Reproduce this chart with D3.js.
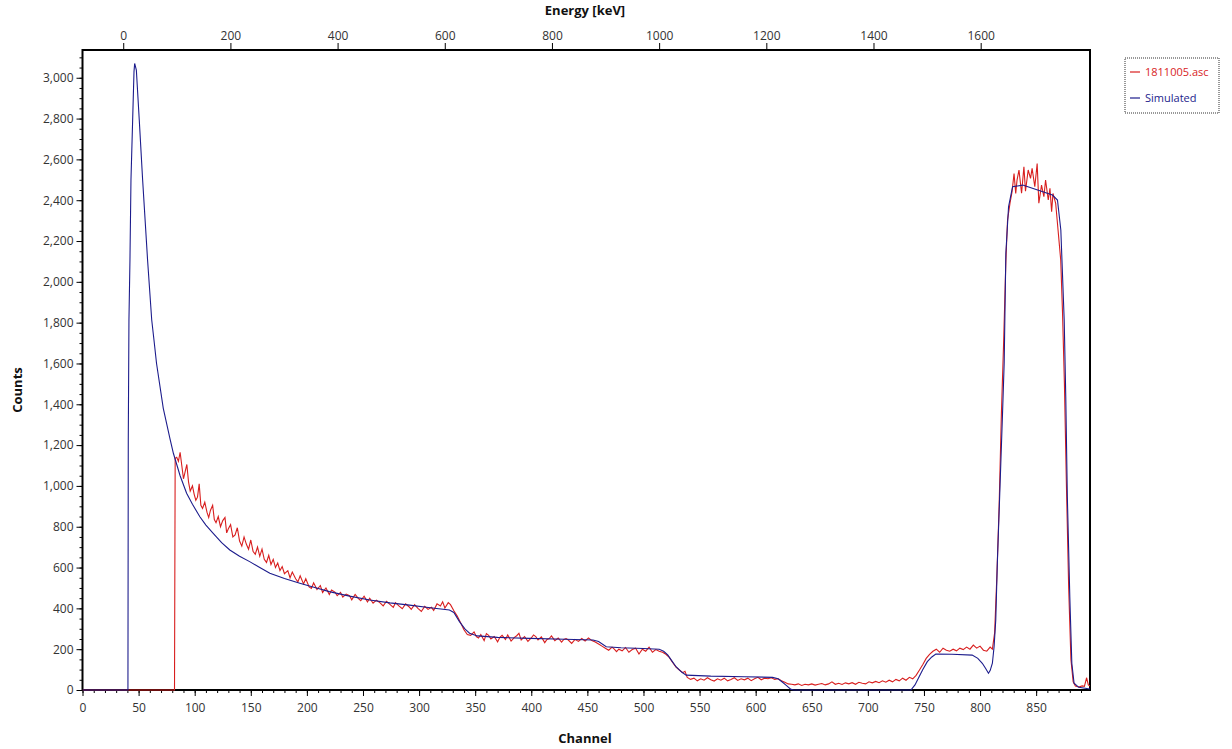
<!DOCTYPE html>
<html>
<head>
<meta charset="utf-8">
<script src="https://cdn.jsdelivr.net/npm/d3@7"></script>
<style>
    body { margin: 0; background: #fff; }
    text { font-family: "Open Sans", "Noto Sans", sans-serif; }
</style>
</head>
<body>
<div id="chart"></div>
<script>
// tick values
const channelTicks = [0, 50, 100, 150, 200, 250, 300, 350, 400, 450, 500, 550, 600, 650, 700, 750, 800, 850];
const energyTicks = [0, 200, 400, 600, 800, 1000, 1200, 1400, 1600];
const countTicks = [0, 200, 400, 600, 800, 1000, 1200, 1400, 1600, 1800, 2000, 2200, 2400, 2600, 2800, 3000];

// axis ranges
const channelDomain = [0, 898];
const energyDomain = [-76, 1804];
const countDomain = [0, 3136];

// series names
const seriesNames = ["1811005.asc", "Simulated"];

// simulated spectrum [channel, counts]
const simulated = [
    [0, 0], [40.5, 0], [40.8, 1225], [41.4, 1813], [42.3, 2107], [43.2, 2499], [44.7, 2793],
    [45.9, 3030], [46.5, 3070], [48, 3038], [50.6, 2793], [53.6, 2499], [58, 2107], [61.7, 1813],
    [64, 1700], [66, 1600], [72, 1380], [78, 1230], [81, 1160], [87, 1050], [92.8, 964],
    [98, 910], [104.6, 849], [110, 808], [116.5, 768], [124, 722], [131.3, 686], [140, 655],
    [149, 629], [158, 600], [167, 572], [180, 546], [193.7, 523], [207, 502], [220, 482],
    [238, 460], [256, 441], [274, 427], [291.5, 416], [310, 403], [327, 392], [331, 380],
    [336, 335], [341, 298], [345, 278], [352, 265], [370, 258], [398.5, 253], [430, 249],
    [455, 245], [460, 238], [466.8, 212], [480, 207], [500, 203], [514, 200], [518, 190],
    [521.6, 172], [525, 145], [529, 114], [534, 88], [538, 73], [560, 68], [590, 65],
    [615, 62], [620, 55], [624, 38], [627, 24], [631.5, 3], [634, 0], [738.4, 0],
    [742, 25], [745.7, 65], [749, 100], [753, 139], [757, 162], [760.6, 176], [775, 175],
    [793, 171], [798, 155], [802, 131], [805, 105], [807.5, 82], [809, 95], [811, 131],
    [812.5, 212], [814, 343], [815.4, 621], [818.5, 1111], [820, 1350], [821.5, 1601],
    [823, 2140], [825.4, 2368], [829, 2466], [838, 2474], [850, 2452], [864.5, 2425],
    [869, 2401], [872, 2254], [875, 1813], [876.4, 1437], [877.8, 947], [880, 457],
    [881.8, 131], [883.8, 33], [888, 13], [898, 5]
];

// measured spectrum [channel, counts]
const measuredLow = [
    [0, 0], [82, 0], [82.6, 1135], [84, 1140], [85.5, 1120], [87, 1165], [88.5, 1100],
    [90, 1035], [91.5, 1070], [93, 1105], [94.5, 1020], [96, 975], [98, 1000], [99.5, 960],
    [101, 930], [102.5, 945], [104, 1010], [105.5, 905], [107, 890], [109, 920], [111, 870],
    [112.5, 845], [114, 880], [116, 905], [117.5, 835], [119, 820], [121, 850], [123, 800],
    [125, 830], [127, 845], [128.5, 770], [130, 790], [132, 810], [134, 750], [136, 760],
    [138, 795], [140, 730], [142, 705], [144, 750], [146, 715], [148, 690], [150, 735],
    [152, 680], [154, 665], [156, 700], [158, 655], [160, 690], [162, 640], [164, 625],
    [166, 660], [168, 615], [170, 640], [172, 600], [174, 622], [176, 585], [178, 605],
    [180, 570], [183, 585], [185, 550], [187, 578], [190, 545], [192, 530], [194, 560],
    [197, 520], [199, 545], [202, 505], [204, 498], [206, 525], [209, 492], [212, 512],
    [214, 478], [217, 500], [220, 468], [222, 490], [225, 480], [227, 462], [230, 478],
    [232, 455], [235, 470], [238, 462], [240, 442], [243, 468], [246, 448], [248, 438],
    [251, 460], [254, 432], [256, 450], [259, 425], [262, 440], [265, 428], [268, 412],
    [271, 435], [274, 420], [277, 405], [279, 428], [282, 412], [285, 398], [288, 422],
    [291, 408], [293, 395], [296, 418], [299, 400], [302, 385], [305, 410], [308, 395],
    [311, 405], [313, 390], [316, 422], [319, 412], [321, 432], [323, 402], [326, 428],
    [328, 418], [331, 388], [334, 362], [337, 330], [340, 295], [343, 272], [346, 268]
];

const measuredMid = [
    [349, 285], [351, 262], [353, 255], [355, 272], [358, 242], [360, 276], [362, 268],
    [364, 250], [367, 262], [370, 236], [372, 258], [374, 268], [377, 248], [379, 270],
    [382, 240], [385, 258], [387, 266], [389, 278], [391, 245], [394, 262], [397, 238],
    [400, 255], [402, 270], [404, 262], [406, 245], [409, 260], [412, 232], [414, 248],
    [416, 252], [418, 265], [421, 242], [424, 255], [427, 235], [429, 248], [431, 252],
    [433, 245], [436, 228], [439, 248], [442, 238], [445, 252], [448, 240], [451, 255],
    [454, 242], [457, 235], [460, 225], [463, 215], [466, 205], [469, 195], [472, 210],
    [474, 200], [476, 188], [478, 200], [481, 192], [484, 208], [487, 185], [490, 198],
    [493, 205], [496, 176], [499, 200], [502, 190], [505, 210], [508, 185], [511, 198],
    [514, 190], [517, 185], [520, 175], [523, 160], [526, 135], [529, 112], [532, 98],
    [535, 85], [537, 92], [539, 62], [542, 52], [545, 58], [548, 45], [551, 55], [554, 48],
    [557, 60], [560, 50], [563, 44], [566, 55], [569, 48], [572, 58], [575, 45], [578, 52],
    [581, 60], [584, 47], [587, 55], [590, 50], [593, 58], [596, 46], [599, 55], [602, 62],
    [605, 50], [608, 58], [611, 55], [614, 60], [617, 52], [620, 55], [623, 45], [626, 38],
    [629, 30], [632, 28]
];

const measuredHigh = [
    [635, 25], [638, 30], [641, 22], [644, 28], [647, 25], [650, 30], [653, 24], [656, 28],
    [659, 32], [662, 25], [665, 30], [668, 40], [671, 28], [674, 33], [677, 27], [680, 35],
    [683, 30], [686, 36], [689, 28], [692, 38], [695, 33], [698, 30], [701, 40], [704, 35],
    [707, 42], [710, 36], [713, 45], [716, 38], [719, 48], [722, 40], [725, 52], [728, 45],
    [731, 58], [734, 48], [737, 62], [740, 55], [743, 72], [746, 98], [749, 125], [752, 155],
    [755, 175], [758, 190], [761, 200], [764, 185], [767, 205], [770, 195], [773, 190],
    [776, 200], [779, 192], [782, 205], [785, 198], [788, 210], [791, 200], [794, 220],
    [797, 205], [800, 215], [803, 195], [806, 190], [809, 210], [811, 200], [813, 280],
    [815, 560], [817, 900], [819, 1350], [821, 1700], [823, 2100], [824.5, 2303],
    [826.7, 2385], [828.5, 2440], [830.3, 2531], [831.8, 2433], [833, 2500], [834.7, 2548],
    [837, 2434], [839.1, 2564], [840.5, 2444], [842.9, 2548], [845, 2507], [846.4, 2556],
    [848.8, 2466], [850.9, 2580], [852.4, 2385], [854.8, 2474], [856.9, 2417], [858.4, 2499],
    [860.8, 2401], [862.3, 2458], [863.8, 2344], [865, 2433], [867.4, 2385], [869.8, 2237],
    [871.9, 2107], [873.5, 1850], [875.2, 1500], [877, 1000], [879, 500], [881, 150],
    [883, 40], [885, 20], [888, 15], [891, 20], [893, 18], [895, 60], [896.5, 25], [898, 20]
];

const measured = measuredLow.concat(measuredMid, measuredHigh);

function SpectrumChart() {
    const width = 1232;
    const height = 749;
    const margin = {top: 50, right: 142, bottom: 59, left: 82.5};

    const xScale = d3.scaleLinear(channelDomain, [margin.left, width - margin.right]);
    const eScale = d3.scaleLinear(energyDomain, [margin.left, width - margin.right]);
    const yScale = d3.scaleLinear(countDomain, [height - margin.bottom, margin.top]);

    const svg = d3.create("svg")
        .attr("width", width)
        .attr("height", height)
        .attr("viewBox", [0, 0, width, height]);

    svg.append("defs").append("clipPath")
        .attr("id", "plot-clip")
        .append("rect")
        .attr("x", margin.left)
        .attr("y", margin.top)
        .attr("width", width - margin.left - margin.right)
        .attr("height", height - margin.top - margin.bottom + 1);

    // minor ticks
    const xMinor = d3.axisBottom(xScale).tickValues(d3.range(0, 899, 10)).tickSize(3).tickFormat("");
    const yMinor = d3.axisLeft(yScale).tickValues(d3.range(0, 3136, 50)).tickSize(3).tickFormat("");

    svg.append("g")
        .attr("transform", `translate(0,${height - margin.bottom})`)
        .call(xMinor)
        .call(g => g.select(".domain").remove());

    svg.append("g")
        .attr("transform", `translate(${margin.left},0)`)
        .call(yMinor)
        .call(g => g.select(".domain").remove());

    // major ticks and labels
    const xAxis = d3.axisBottom(xScale).tickValues(channelTicks).tickSize(6).tickPadding(7).tickSizeOuter(0);
    const yAxis = d3.axisLeft(yScale).tickValues(countTicks).tickSize(6).tickPadding(3).tickFormat(d3.format(","));
    const eAxis = d3.axisTop(eScale).tickValues(energyTicks).tickSize(7).tickPadding(3).tickFormat(d3.format("d"));

    const styleAxis = g => {
        g.select(".domain").remove();
        g.selectAll(".tick text").attr("font-size", 12).attr("fill", "#333")
            .attr("font-family", "'Open Sans', sans-serif");
    };

    svg.append("g")
        .attr("transform", `translate(0,${height - margin.bottom})`)
        .call(xAxis)
        .call(styleAxis);

    svg.append("g")
        .attr("transform", `translate(${margin.left},0)`)
        .call(yAxis)
        .call(styleAxis);

    svg.append("g")
        .attr("transform", `translate(0,${margin.top})`)
        .call(eAxis)
        .call(styleAxis);

    // frame
    svg.append("rect")
        .attr("x", margin.left)
        .attr("y", margin.top)
        .attr("width", width - margin.left - margin.right)
        .attr("height", height - margin.top - margin.bottom)
        .attr("fill", "none")
        .attr("stroke", "black")
        .attr("stroke-width", 2);

    // lines, drawn over the frame like the original
    const line = d3.line()
        .x(d => xScale(d[0]))
        .y(d => yScale(d[1]));

    const plot = svg.append("g").attr("clip-path", "url(#plot-clip)");

    plot.append("path")
        .datum(measured)
        .attr("fill", "none")
        .attr("stroke", "#d81e1e")
        .attr("stroke-width", 1.1)
        .attr("d", line);

    plot.append("path")
        .datum(simulated)
        .attr("fill", "none")
        .attr("stroke", "#1c1c8c")
        .attr("stroke-width", 1.1)
        .attr("d", line);

    // axis titles
    svg.append("text")
        .attr("x", 585)
        .attr("y", 15)
        .attr("text-anchor", "middle")
        .attr("font-size", 13)
        .attr("font-weight", "bold")
        .attr("fill", "#111")
        .text("Energy [keV]");

    svg.append("text")
        .attr("x", 585)
        .attr("y", 743)
        .attr("text-anchor", "middle")
        .attr("font-size", 13)
        .attr("font-weight", "bold")
        .attr("fill", "#111")
        .text("Channel");

    svg.append("text")
        .attr("transform", "translate(22, 390) rotate(-90)")
        .attr("text-anchor", "middle")
        .attr("font-size", 13)
        .attr("font-weight", "bold")
        .attr("fill", "#111")
        .text("Counts");

    // legend
    const legend = svg.append("g").attr("transform", "translate(1125,58)");
    legend.append("rect")
        .attr("width", 94)
        .attr("height", 55)
        .attr("fill", "white")
        .attr("stroke", "#777")
        .attr("stroke-width", 1.5)
        .attr("stroke-dasharray", "1,1");

    const legendColors = ["#d81e1e", "#1c1c8c"];
    seriesNames.forEach((name, i) => {
        const row = legend.append("g").attr("transform", `translate(0,${14 + i * 26})`);
        row.append("line")
            .attr("x1", 5).attr("x2", 15)
            .attr("stroke", legendColors[i])
            .attr("stroke-width", 1.2);
        row.append("text")
            .attr("x", 20)
            .attr("dy", "0.35em")
            .attr("font-size", 11)
            .attr("fill", legendColors[i])
            .text(name);
    });

    return svg.node();
}

document.getElementById("chart").appendChild(SpectrumChart());
</script>
</body>
</html>
